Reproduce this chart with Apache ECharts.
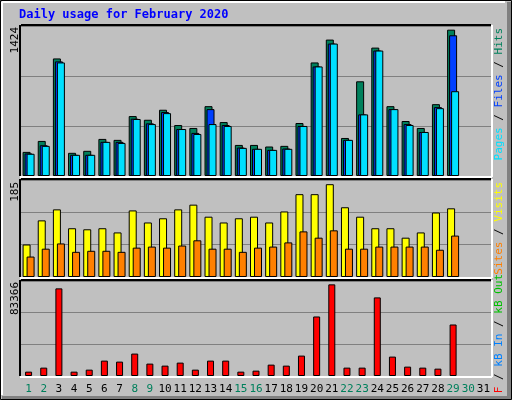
<!DOCTYPE html>
<html><head><meta charset="utf-8">
<script src="https://cdn.jsdelivr.net/npm/echarts@6/dist/echarts.min.js"></script>
<style>html,body{margin:0;padding:0;background:#C0C0C0}#c{width:512px;height:400px}</style>
</head><body><div id="c"></div>
<script>
const days = Array.from({length:31},(_,i)=>String(i+1));
const weekendDays = ['1','2','8','9','15','16','22','23','29','30'];
const hits  = [229,333,1116,220,239,352,343,569,534,629,484,456,663,512,295,295,280,286,503,1078,1295,361,899,1219,663,522,456,682,1389,null,null];
const files = [214,292,1088,201,201,324,324,544,500,607,446,409,635,484,270,258,248,261,475,1040,1257,343,585,1191,635,493,418,654,1336,null,null];
const pages = [211,286,1078,201,201,324,314,541,493,597,446,399,493,475,267,258,248,258,475,1040,1257,343,585,1191,635,484,418,644,805,null,null];
const visits= [62,108,129,93,91,93,85,127,104,112,129,138,115,104,112,115,104,125,158,158,177,133,115,93,93,75,85,123,131,null,null];
const sites = [39,54,64,48,50,50,48,56,58,56,60,70,54,54,48,56,58,66,87,75,89,54,54,58,58,58,58,52,79,null,null];
const kbytes= [3815,7338,76900,3815,5577,13500,12620,19665,10860,9100,11740,5577,13500,13500,3815,4696,9979,9100,17900,52240,80420,7338,7338,68970,17020,8218,7338,6457,45200,null,null];
const maxHits = 1424, maxVisits = 185, maxKB = 83366;
const title = 'Daily usage for February 2020';

const mono = 'DejaVu Sans Mono';
const chart = echarts.init(document.getElementById('c'));
const grids = [
  {left:21, top:26, width:470, height:150},
  {left:21, top:180, width:470, height:97},
  {left:21, top:281, width:470, height:95}
];
function xa(i){return {type:'category',data:days,gridIndex:i,axisLine:{show:false},axisTick:{show:false},
  axisLabel:{show:i===2,interval:0,margin:8,fontFamily:mono,fontSize:11,
    formatter:v=>weekendDays.includes(v)?'{g|'+v+'}':'{b|'+v+'}',
    rich:{g:{color:'#00805C',fontFamily:mono,fontSize:11},b:{color:'#000',fontFamily:mono,fontSize:11}}}};}
function ya(i,m){return {type:'value',gridIndex:i,min:0,max:m,interval:m/3,axisLabel:{show:false},axisLine:{show:false},axisTick:{show:false},
  splitLine:{lineStyle:{color:'#808080',width:1}}};}
const bs={borderColor:'#000',borderWidth:1};
function frame(g){const x=g.left,y=g.top,w=g.width,h=g.height;return [
  {type:'line',shape:{x1:x,y1:y-1,x2:x+w,y2:y-1},style:{stroke:'#000',lineWidth:2},z:100},
  {type:'line',shape:{x1:x-1,y1:y-1,x2:x-1,y2:y+h},style:{stroke:'#000',lineWidth:2},z:100},
  {type:'line',shape:{x1:x-1,y1:y+h+1,x2:x+w+1,y2:y+h+1},style:{stroke:'#fff',lineWidth:2},z:100},
  {type:'line',shape:{x1:x+w+1,y1:y-1,x2:x+w+1,y2:y+h+1},style:{stroke:'#fff',lineWidth:2},z:100}];}
function vtext(x,y,txt,rich){return {type:'text',x:x,y:y,rotation:Math.PI/2,style:{text:txt,rich:rich,font:'11px '+mono,fill:'#000',align:'right',verticalAlign:'middle'},z:100};}
const graphic=[
  {type:'rect',shape:{x:0.5,y:0.5,width:511,height:399},style:{fill:null,stroke:'#000',lineWidth:1}},
  {type:'line',shape:{x1:2,y1:2,x2:505,y2:2},style:{stroke:'#fff',lineWidth:2}},
  {type:'line',shape:{x1:2,y1:2,x2:2,y2:395},style:{stroke:'#fff',lineWidth:2}},
  {type:'rect',shape:{x:507,y:2,width:4,height:397},style:{fill:'#808080'}},
  {type:'rect',shape:{x:2,y:396,width:509,height:3},style:{fill:'#808080'}},
  {type:'text',x:19,y:15,style:{text:title,font:'bold 12px '+mono,fill:'#0000FF',verticalAlign:'middle'}},
  vtext(15,27,String(maxHits)),
  vtext(15,182,String(maxVisits)),
  vtext(15,282,String(maxKB)),
  vtext(499,28,'{p|Pages}{k| / }{f|Files}{k| / }{h|Hits}',{h:{fill:'#00805C'},f:{fill:'#0040FF'},p:{fill:'#00E0FF'},k:{fill:'#000'}}),
  vtext(499,182,'{s|Sites}{k| / }{v|Visits}',{v:{fill:'#FFFF00'},s:{fill:'#FF8000'},k:{fill:'#000'}}),
  vtext(499,274,'{f|kB F}{k| / }{i|kB In}{k| / }{o|kB Out}',{o:{fill:'#00C000'},i:{fill:'#0080FF'},f:{fill:'#FF0000'},k:{fill:'#000'}})
].concat(frame(grids[0]),frame(grids[1]),frame(grids[2]));
chart.setOption({
  animation:false,
  backgroundColor:'#C0C0C0',
  grid:grids.map(g=>Object.assign({show:true,backgroundColor:'#C0C0C0',borderWidth:0},g)),
  xAxis:[xa(0),xa(1),xa(2)],
  yAxis:[ya(0,maxHits),ya(1,maxVisits),ya(2,maxKB)],
  series:[
    {type:'bar',xAxisIndex:0,yAxisIndex:0,data:hits,barWidth:8,barGap:'-75%',itemStyle:Object.assign({color:'#00805C'},bs)},
    {type:'bar',xAxisIndex:0,yAxisIndex:0,data:files,barWidth:8,barGap:'-75%',itemStyle:Object.assign({color:'#0040FF'},bs)},
    {type:'bar',xAxisIndex:0,yAxisIndex:0,data:pages,barWidth:8,barGap:'-75%',itemStyle:Object.assign({color:'#00E0FF'},bs)},
    {type:'bar',xAxisIndex:1,yAxisIndex:1,data:visits,barWidth:8,barGap:'-50%',itemStyle:Object.assign({color:'#FFFF00'},bs)},
    {type:'bar',xAxisIndex:1,yAxisIndex:1,data:sites,barWidth:8,barGap:'-50%',itemStyle:Object.assign({color:'#FF8000'},bs)},
    {type:'bar',xAxisIndex:2,yAxisIndex:2,data:kbytes,barWidth:7,itemStyle:Object.assign({color:'#FF0000'},bs)}
  ],
  graphic:graphic
});
</script></body></html>
